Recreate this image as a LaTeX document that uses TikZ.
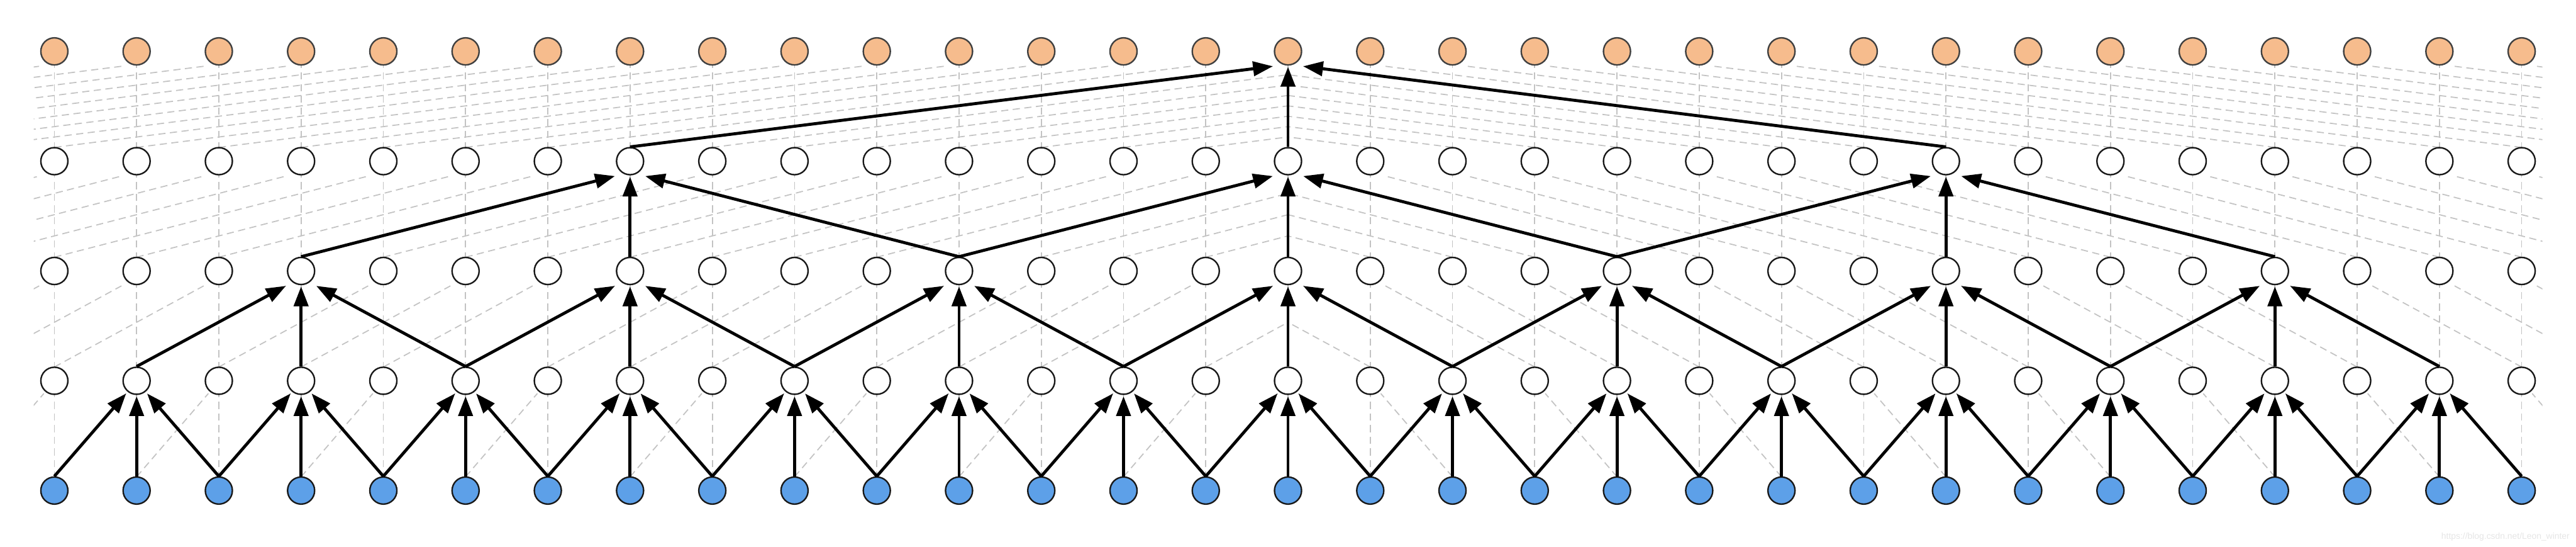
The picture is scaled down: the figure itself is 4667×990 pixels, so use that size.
\documentclass[tikz,border=0pt]{standalone}
\usepackage{fontspec}
\usetikzlibrary{arrows.meta,calc}
\newfontfamily\wmfont{Liberation Sans}
\definecolor{inblue}{RGB}{93,160,232}
\definecolor{outorange}{RGB}{246,188,141}
\definecolor{gridgray}{RGB}{195,195,195}
\tikzset{
  unit/.style={circle, draw=black!90, line width=0.77pt, minimum size=0.49cm, inner sep=0pt, fill=white},
  inunit/.style={unit, fill=inblue},
  outunit/.style={unit, fill=outorange, draw=black!75},
  gridline/.style={gridgray, line width=0.57pt, dash pattern=on 3.7pt off 2.3pt},
  conn/.style={line width=1.55pt, -{Triangle[length=10.2pt,width=7.4pt]}},
}
\begin{document}
\begin{tikzpicture}[x=0.01cm,y=0.01cm]
\useasboundingbox (0,0) rectangle (4667,990);
% positions of all units
\foreach \L in {0,...,4}{
  \foreach \i in {0,...,30}{
    \coordinate (c-\L-\i) at ({98.5+149*\i},{102+198.75*\L});
  }
}
% vertical grid lines
\foreach \L in {1,...,4}{
  \pgfmathtruncatemacro{\Lm}{\L-1}
  \foreach \i in {0,...,30}{
    \draw[gridline] (c-\Lm-\i) -- (c-\L-\i);
  }
}
% diagonal grid lines, left half
\begin{scope}
  \clip (61,0) rectangle (2333.5,990);
  \foreach \L/\d/\ox/\oy in {1/1/19/23,2/2/27.5/27,3/4/27.5/27,4/8/27.5/27}{
    \pgfmathsetmacro{\ylo}{102+198.75*(\L-1)+25}
    \pgfmathsetmacro{\yhi}{102+198.75*\L-\oy}
    \foreach \j in {-8,...,14}{
      \draw[gridline] ({98.5+149*\j},\ylo) -- ({98.5+149*(\j+\d)-\ox},\yhi);
    }
  }
\end{scope}
% diagonal grid lines, right half
\begin{scope}
  \clip (2333.5,0) rectangle (4606,990);
  \foreach \L/\d/\ox/\oy in {1/1/19/23,2/2/27.5/27,3/4/27.5/27,4/8/27.5/27}{
    \pgfmathsetmacro{\ylo}{102+198.75*(\L-1)+25}
    \pgfmathsetmacro{\yhi}{102+198.75*\L-\oy}
    \foreach \j in {16,...,38}{
      \draw[gridline] ({98.5+149*\j},\ylo) -- ({98.5+149*(\j-\d)+\ox},\yhi);
    }
  }
\end{scope}
% units
\foreach \i in {0,...,30}{
  \node[inunit] (n-0-\i) at (c-0-\i) {};
  \node[unit] (n-1-\i) at (c-1-\i) {};
  \node[unit] (n-2-\i) at (c-2-\i) {};
  \node[unit] (n-3-\i) at (c-3-\i) {};
  \node[outunit] (n-4-\i) at (c-4-\i) {};
}
% dilated connections
\foreach \L/\d/\ox/\oy/\n in {1/1/19/23/14,2/2/27.5/27/6,3/4/27.5/27/2,4/8/27.5/27/0}{
  \pgfmathtruncatemacro{\Lm}{\L-1}
  \pgfmathtruncatemacro{\first}{2*\d-1}
  \pgfmathtruncatemacro{\stp}{2*\d}
  \foreach \k in {0,...,\n}{
    \pgfmathtruncatemacro{\c}{\first+\stp*\k}
    \pgfmathtruncatemacro{\a}{\c-\d}
    \pgfmathtruncatemacro{\b}{\c+\d}
    \draw[conn] (n-\Lm-\a.north) -- ($(n-\L-\c)+(-\ox,-\oy)$);
    \draw[conn] (n-\Lm-\c.north) -- ($(n-\L-\c)+(0,-28)$);
    \draw[conn] (n-\Lm-\b.north) -- ($(n-\L-\c)+(\ox,-\oy)$);
  }
}
% watermark
\node[anchor=east, inner sep=0pt, text=black!10, font=\wmfont\fontsize{4.5pt}{5pt}\selectfont] (wm) at (4656,18) {https://blog.csdn.net/Leon\_winter};
\end{tikzpicture}
\end{document}
